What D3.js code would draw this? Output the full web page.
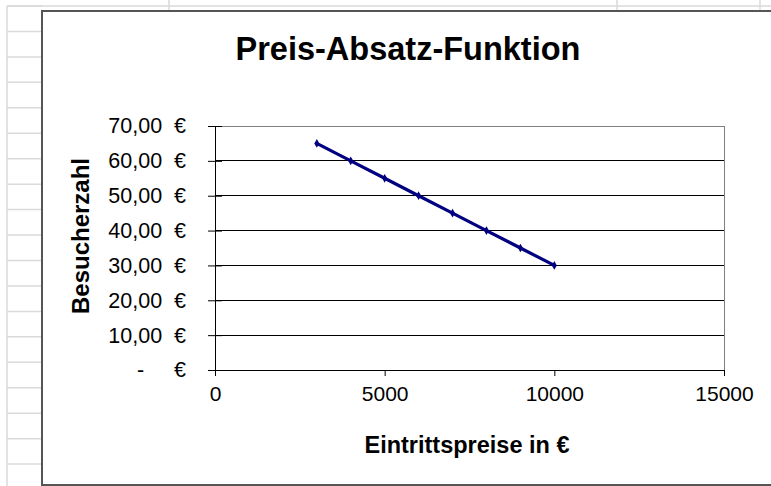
<!DOCTYPE html>
<html><head><meta charset="utf-8">
<script src="https://cdn.jsdelivr.net/npm/d3@7"></script>
<style>
html,body{margin:0;padding:0;background:#fff;overflow:hidden;}
svg{display:block;font-family:"Liberation Sans",Arial,sans-serif;}
</style></head>
<body>
<svg id="c" width="771" height="486"></svg>
<script>
// Data
const prices = [3000, 4000, 5000, 6000, 7000, 8000, 9000, 10000];
const visitors = [65, 60, 55, 50, 45, 40, 35, 30];
const xTicks = [0, 5000, 10000, 15000];
const yTicks = [0, 10, 20, 30, 40, 50, 60, 70];
const titleText = "Preis-Absatz-Funktion";
const xTitle = "Eintrittspreise in €";
const yTitle = "Besucherzahl";

const svg = d3.select("#c");
const W = 771, H = 486;

// spreadsheet background
const bg = svg.append("g").attr("stroke", "#dadada").attr("stroke-width", 1.5);
d3.range(6, 486, 25.45).forEach(y => bg.append("line").attr("x1", 7).attr("x2", 42).attr("y1", y).attr("y2", y));
bg.append("line").attr("x1", 7).attr("x2", W).attr("y1", 6).attr("y2", 6);
[7].forEach(x => bg.append("line").attr("x1", x).attr("x2", x).attr("y1", 6).attr("y2", H));
[169, 617, 760].forEach(x => bg.append("line").attr("x1", x).attr("x2", x).attr("y1", 0).attr("y2", 11));

// chart area
svg.append("rect").attr("x", 42).attr("y", 11).attr("width", 900).attr("height", 474)
  .attr("fill", "#fff").attr("stroke", "#555").attr("stroke-width", 2);

const m = {l: 215, r: 724, t: 126, b: 370};
const x = d3.scaleLinear().domain([0, 15000]).range([m.l, m.r]);
const y = d3.scaleLinear().domain([0, 70]).range([m.b, m.t]);

// gridlines
svg.append("g").selectAll("line").data(yTicks.filter(d => d > 0 && d < 70)).join("line")
  .attr("x1", m.l).attr("x2", m.r).attr("y1", d => y(d)).attr("y2", d => y(d))
  .attr("stroke", "#000").attr("stroke-width", 1).attr("shape-rendering", "crispEdges");

// plot border top/right
svg.append("path").attr("d", `M${m.l},${y(70)}H${m.r}V${m.b}`).attr("fill", "none")
  .attr("stroke", "#808080").attr("stroke-width", 1).attr("shape-rendering", "crispEdges");

// axes
const yAxis = d3.axisLeft(y).tickValues(yTicks).tickSizeInner(7).tickSizeOuter(0)
  .tickPadding(22)
  .tickFormat(d => d === 0 ? "-     €" : d3.format(".2f")(d).replace(".", ",") + "  €");
const gy = svg.append("g").attr("transform", `translate(${m.l},0)`).call(yAxis);
gy.selectAll(".tick line").attr("x2", -7).attr("x1", 7);
gy.selectAll("text").attr("font-size", 21.5).attr("fill", "#000").style("white-space", "pre")
  .attr("font-family", "Liberation Sans, Arial, sans-serif");
gy.select(".domain").attr("stroke", "#000");

const xAxis = d3.axisBottom(x).tickValues(xTicks).tickSizeInner(6).tickSizeOuter(0)
  .tickPadding(10).tickFormat(d3.format("d"));
const gx = svg.append("g").attr("transform", `translate(0,${m.b})`).call(xAxis);
gx.selectAll("text").attr("font-size", 21).attr("fill", "#000")
  .attr("font-family", "Liberation Sans, Arial, sans-serif");
gx.select(".domain").attr("stroke", "#000");
gx.selectAll(".tick line").attr("stroke", "#000");
gy.selectAll(".tick line").attr("stroke", "#000");

// line
const pts = prices.map((p, i) => [p, visitors[i]]);
svg.append("path").datum(pts)
  .attr("d", d3.line().x(d => x(d[0])).y(d => y(d[1])))
  .attr("fill", "none").attr("stroke", "#000080").attr("stroke-width", 3.2);
svg.append("g").selectAll("path").data(pts).join("path")
  .attr("d", d3.symbol().type(d3.symbolDiamond).size(22))
  .attr("transform", d => `translate(${x(d[0])},${y(d[1])})`)
  .attr("fill", "#000080");

// titles
svg.append("text").attr("x", 408).attr("y", 60).attr("text-anchor", "middle")
  .attr("font-size", 32.5).attr("font-weight", "bold").text(titleText);
svg.append("text").attr("x", 467).attr("y", 453).attr("text-anchor", "middle")
  .attr("font-size", 23.5).attr("font-weight", "bold").text(xTitle);
svg.append("text").attr("transform", "translate(89,236) rotate(-90)").attr("text-anchor", "middle")
  .attr("font-size", 24).attr("font-weight", "bold").text(yTitle);
</script>
</body></html>
